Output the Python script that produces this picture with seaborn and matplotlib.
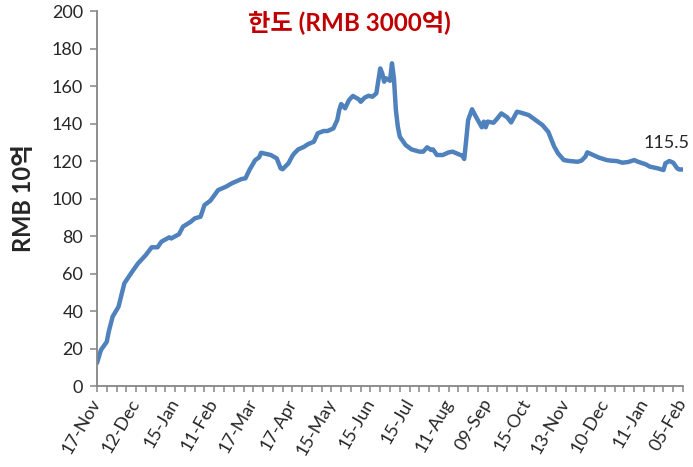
import matplotlib
matplotlib.use("Agg")
import matplotlib.pyplot as plt
from matplotlib.ticker import MultipleLocator
import seaborn as sns
import pandas as pd

# trading-day index of each traced point, and the quota used (RMB 10억)
day = [0, 2, 5, 6, 8, 11, 14, 18, 21, 25, 28, 31, 33, 37, 38, 42, 44, 48, 50, 53,
       55, 58, 62, 66, 69, 74, 76, 78, 81, 83, 84, 87, 89, 92, 94, 95, 98, 100, 101, 103,
       106, 108, 111, 113, 116, 118, 121, 123, 124, 125, 127, 129, 131, 134, 135, 137, 139, 141, 143, 145,
       146, 147, 148, 150, 151, 152, 153, 154, 155, 158, 161, 165, 167, 169, 171, 172, 174, 177, 180, 182,
       185, 187, 188, 189, 190, 192, 194, 197, 198, 199, 200, 203, 205, 207, 210, 212, 215, 217, 221, 224,
       228, 231, 233, 234, 236, 239, 242, 246, 248, 250, 251, 254, 257, 261, 263, 266, 269, 272, 275, 277,
       281, 283, 287, 290, 291, 293, 295, 297, 298, 300]
used = [12.3, 19.2, 23.6, 29.0, 37.0, 42.3, 54.8, 61.0, 65.4, 69.9, 74.0, 74.0, 77.0, 79.3, 78.7, 81.0, 85.0, 87.6, 89.4, 90.3,
        96.5, 98.8, 104.5, 106.3, 108.1, 110.4, 110.8, 115.2, 120.5, 122.0, 124.4, 123.7, 123.2, 121.4, 116.1, 115.6, 118.8, 122.7, 124.1, 126.2,
        127.6, 129.0, 130.3, 134.8, 136.0, 136.0, 137.4, 141.9, 147.2, 150.4, 148.1, 152.5, 154.7, 152.9, 151.6, 153.8, 154.8, 154.3, 156.1, 169.4,
        166.8, 162.3, 164.1, 162.8, 172.1, 164.1, 147.2, 138.3, 133.0, 128.5, 126.2, 125.0, 125.0, 127.3, 125.9, 126.2, 123.2, 123.2, 124.6, 125.0,
        123.7, 122.8, 121.1, 131.2, 141.9, 147.6, 143.6, 138.0, 141.0, 138.0, 141.0, 140.4, 142.8, 145.4, 143.3, 140.6, 146.3, 145.8, 144.5, 142.2,
        139.2, 135.6, 130.3, 127.8, 124.1, 120.5, 120.0, 119.6, 120.2, 122.3, 124.6, 123.2, 121.8, 120.5, 120.2, 120.0, 119.1, 119.5, 120.5, 119.6,
        118.2, 117.0, 116.1, 115.2, 118.8, 120.0, 119.1, 116.1, 115.5, 115.5]
tick_labels = ["17-Nov", "12-Dec", "15-Jan", "11-Feb", "17-Mar", "17-Apr", "15-May", "15-Jun",
               "15-Jul", "11-Aug", "09-Sep", "15-Oct", "13-Nov", "10-Dec", "11-Jan", "05-Feb"]
last_value = "115.5"

df = pd.DataFrame({"day": day, "used": used})

sns.set_style("white")
plt.rcParams["font.family"] = ["Lato", "Noto Sans CJK KR", "DejaVu Sans"]

fig = plt.figure(figsize=(6.93, 4.67), dpi=100)
ax = fig.add_axes([0.140, 0.1734, 0.8456, 0.803])

sns.lineplot(data=df, x="day", y="used", color="#4F81BD", lw=3.2, ax=ax)

ax.set_xlim(0, 300)
ax.set_ylim(0, 200)
ax.set_xticks(range(0, 301, 20))
ax.set_xticklabels(tick_labels, rotation=60, ha="right", va="center",
                   rotation_mode="anchor", fontsize=13)
ax.xaxis.set_minor_locator(MultipleLocator(5))
ax.set_yticks(range(0, 201, 20))
ax.tick_params(axis="y", labelsize=13, length=5, width=1.1, color="#868686",
               direction="out", left=True, pad=5)
ax.tick_params(axis="x", which="both", length=4, width=1.1, color="#868686",
               direction="out", bottom=True, pad=6)

for s in ["top", "right"]:
    ax.spines[s].set_visible(False)
for s in ["left", "bottom"]:
    ax.spines[s].set_color("#868686")
    ax.spines[s].set_linewidth(1.3)

ax.set_xlabel("")
ax.set_ylabel("RMB 10억", fontsize=17, fontweight="bold", labelpad=12)

# last value label, pulled in a little so it stays inside the picture
ax.annotate(last_value, xy=(day[-1], used[-1]), xytext=(-40, 26),
            textcoords="offset pixels", ha="left", va="center",
            fontsize=13, annotation_clip=False)

fig.text(0.504, 0.951, "한도 (RMB 3000억)", color="#C00000", fontsize=17.5,
         fontweight="bold", ha="center", va="center")

fig.savefig("out.png", dpi=100)
